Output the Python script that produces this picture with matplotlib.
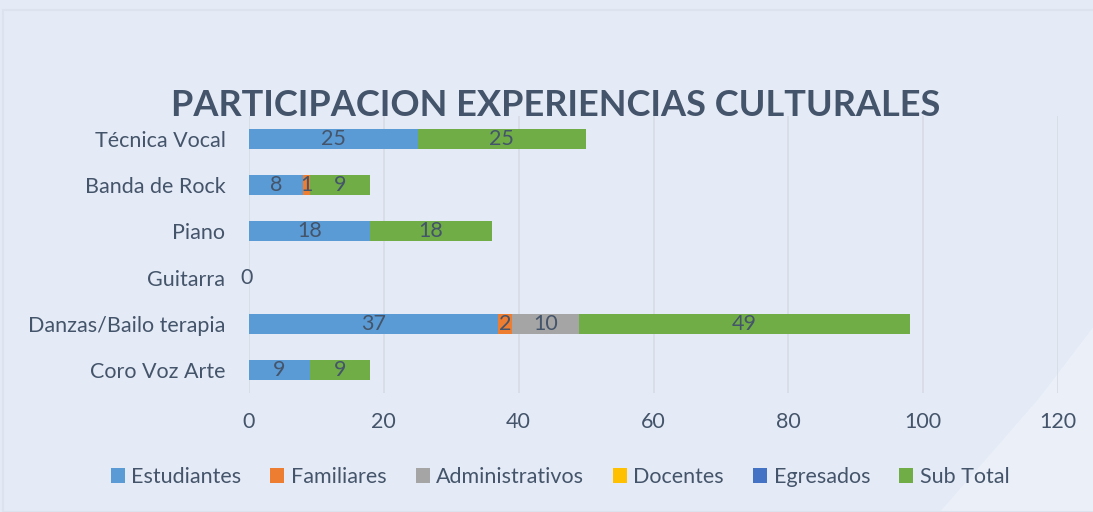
import numpy as np
import matplotlib.pyplot as plt
from matplotlib.patches import Polygon, Rectangle

# Datos del gráfico
categorias = ['Coro Voz Arte', 'Danzas/Bailo terapia', 'Guitarra', 'Piano', 'Banda de Rock', 'Técnica Vocal']
estudiantes = [9, 37, 0, 18, 8, 25]
familiares = [0, 2, 0, 0, 1, 0]
administrativos = [0, 10, 0, 0, 0, 0]
docentes = [0, 0, 0, 0, 0, 0]
egresados = [0, 0, 0, 0, 0, 0]
sub_total = [9, 49, 0, 18, 9, 25]

series = [('Estudiantes', estudiantes, '#5b9bd5'),
          ('Familiares', familiares, '#ed7d31'),
          ('Administrativos', administrativos, '#a5a5a5'),
          ('Docentes', docentes, '#ffc000'),
          ('Egresados', egresados, '#4472c4'),
          ('Sub Total', sub_total, '#70ad47')]

fondo = '#e5ebf6'
texto = '#44546a'
plt.rcParams['font.family'] = ['Lato', 'DejaVu Sans']

fig = plt.figure(figsize=(10.93, 5.12), dpi=100, facecolor=fondo)
# forma decorativa clara en la esquina inferior derecha
fig.patches.append(Polygon([(0.86, 0.0), (1.0, 0.0), (1.0, 0.36), (0.95, 0.22)],
                           closed=True, transform=fig.transFigure, zorder=-1,
                           facecolor='white', alpha=0.25, edgecolor='none'))
# borde tenue del área del gráfico
fig.patches.append(Rectangle((3 / 1093, 0), 1, 1 - 10 / 512, transform=fig.transFigure,
                             fill=False, edgecolor='#dce2ee', linewidth=1.5, zorder=-1))

ax = fig.add_axes([249 / 1093, 1 - 393 / 512, (1058 - 249) / 1093, 277 / 512])
ax.set_facecolor('none')

y = np.arange(len(categorias))
izq = np.zeros(len(categorias))
for nombre, vals, color in series:
    vals = np.array(vals, dtype=float)
    ax.barh(y, vals, left=izq, height=0.43, color=color, label=nombre, zorder=3)
    for yi, v, l in zip(y, vals, izq):
        if v > 0:
            ax.text(l + v / 2, yi, f'{int(v)}', ha='center', va='center',
                    fontsize=15.5, color=texto, zorder=4)
    izq += vals

# etiqueta del cero en Guitarra
ax.text(-0.3, 2, '0', ha='center', va='center', fontsize=15.5, color=texto)

ax.set_xlim(0, 120)
ax.set_ylim(-0.5, 5.5)
ax.set_xticks(range(0, 121, 20))
ax.set_yticks(y)
ax.set_yticklabels(categorias)
ax.tick_params(axis='both', length=0, labelsize=15.5, labelcolor=texto)
ax.tick_params(axis='x', pad=14)
ax.tick_params(axis='y', pad=17)
ax.grid(axis='x', color='#d6dbe4', linewidth=1.2, zorder=0)
for s in ax.spines.values():
    s.set_visible(False)

fig.text(556 / 1093, 1 - 105 / 512, 'PARTICIPACION EXPERIENCIAS CULTURALES',
         ha='center', va='center', fontsize=26, fontweight='bold', color=texto)

leg = fig.legend(loc='center', bbox_to_anchor=(560 / 1093, 1 - 477 / 512), ncol=6,
                 frameon=False, fontsize=15.5, handlelength=0.65, handleheight=0.65,
                 handletextpad=0.3, columnspacing=1.35)
for t in leg.get_texts():
    t.set_color(texto)

plt.savefig('out.png', dpi=100, facecolor=fondo)
